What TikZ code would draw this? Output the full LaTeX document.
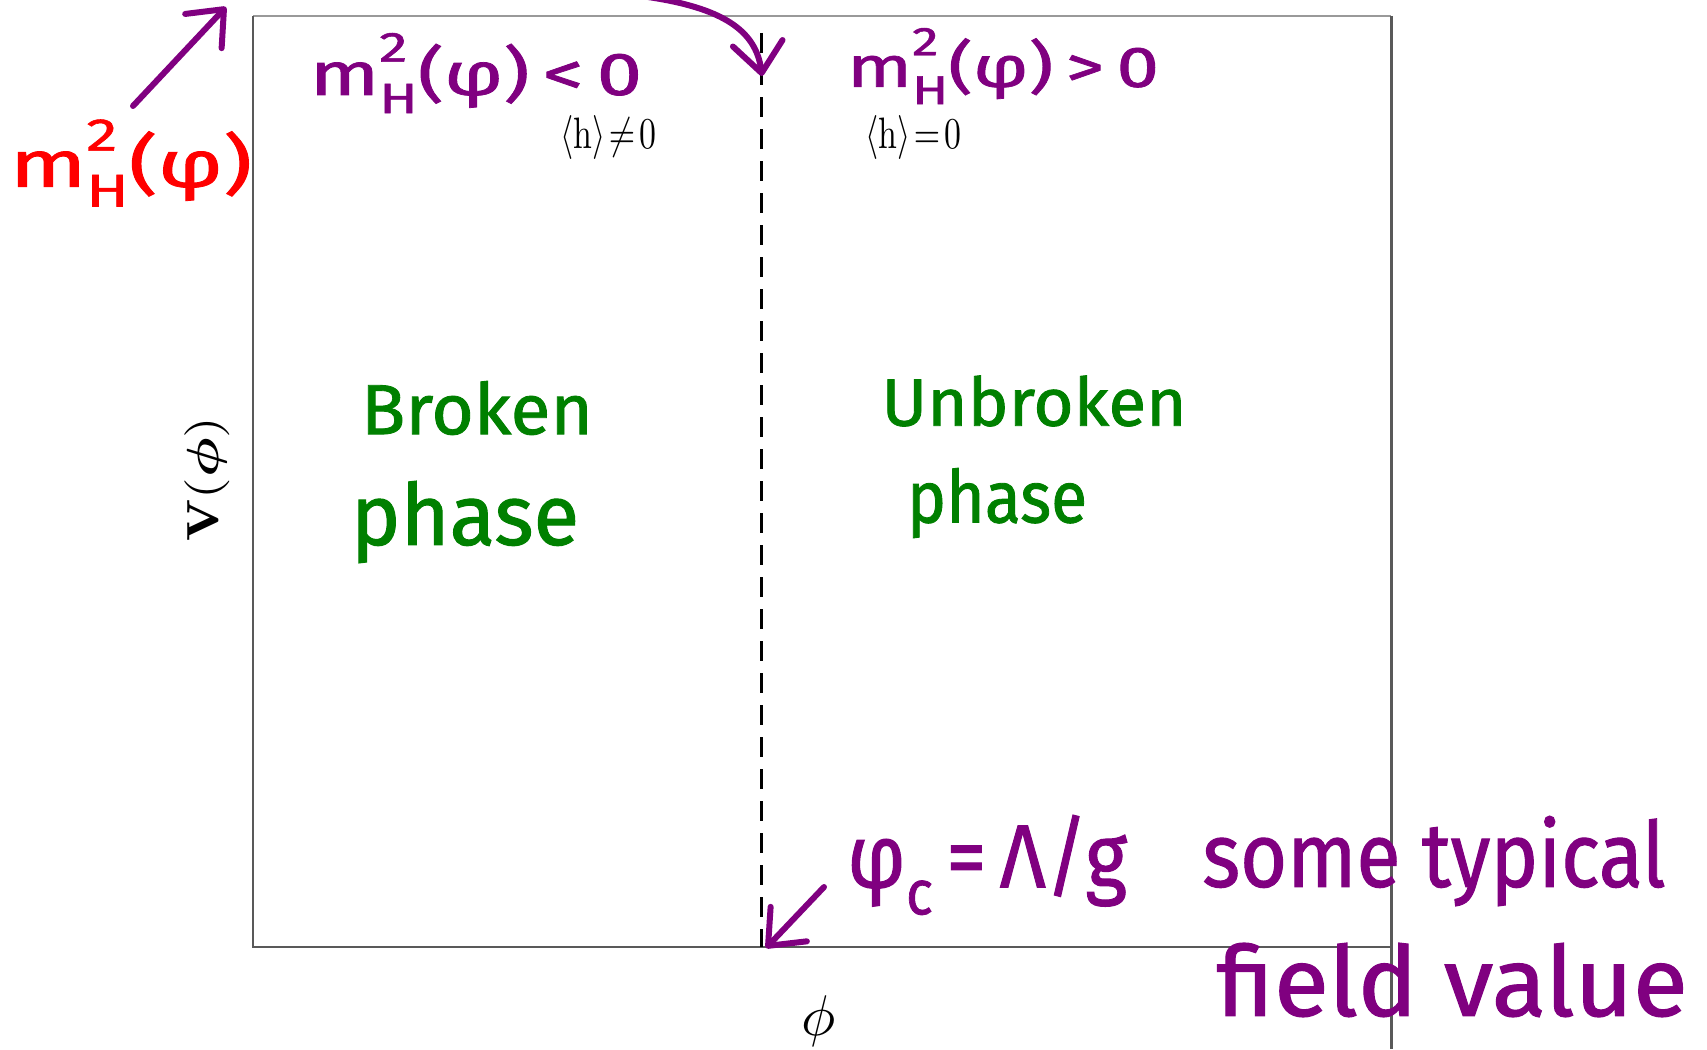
\documentclass[tikz,border=0pt]{standalone}
\usepackage{amsmath}
\usepackage{fontspec}
\usepackage{graphicx}
\usetikzlibrary{arrows.meta}
\newfontfamily\handfont[FakeBold=1.2]{Fira Sans}
\definecolor{hpurple}{RGB}{128,0,128}
\definecolor{hgreen}{RGB}{0,128,0}
\definecolor{hred}{RGB}{255,0,0}
\newcommand{\hw}[3]{\resizebox*{#1}{#2}{\handfont #3}}
\newcommand{\mHphi}{m\rlap{\raisebox{0.55em}{\scalebox{0.7}{2}}}\raisebox{-0.3em}{\scalebox{0.7}{H}}(φ)}
\tikzset{
  handline/.style={draw=hpurple, line width=6pt, line cap=round, line join=round},
  barb/.style={-{Straight Barb[length=30pt,width=50pt,line cap=round,line join=round]}},
  lbl/.style={inner sep=0pt, outer sep=0pt},
}
\begin{document}
\begin{tikzpicture}[x=1pt,y=-1pt]
\useasboundingbox (0,0) rectangle (1707,1049);
\fill[white] (0,0) rectangle (1707,1049);
% frame
\draw[black!40, line width=2pt] (253,16) -- (1391,16);
\draw[black!65, line width=2pt] (253,16) -- (253,947) -- (1391,947);
\draw[black!65, line width=3pt] (1391,16) -- (1391,1049);
% dashed critical line
\coordinate (dtop) at (761,33);
\coordinate (dbot) at (761,947);
\draw[black, line width=3pt, dash pattern=on 20pt off 12pt] (dtop) -- (dbot);
% axis labels
\node[lbl, rotate=90] (vlab) at (207,479) {\resizebox*{125pt}{45pt}{$\mathbf{V}(\boldsymbol{\phi})$}};
\node[lbl] (philab) at (819,1021) {\resizebox*{!}{51pt}{$\phi$}};
% printed vev labels
\node[lbl] (vevL) at (608,137) {\resizebox*{96pt}{44pt}{$\langle\mathrm{h}\rangle\!\neq\!0$}};
\node[lbl] (vevR) at (913,137) {\resizebox*{96pt}{44pt}{$\langle\mathrm{h}\rangle\!=\!0$}};
% handwritten labels
\node[lbl, text=hred] (redm) at (131,163) {\hw{242pt}{87pt}{\mHphi}};
\node[lbl, text=hpurple] (mL) at (476,73) {\hw{332pt}{80pt}{\mHphi\,<\,0}};
\node[lbl, text=hpurple] (mR) at (1003,66) {\hw{312pt}{76pt}{\mHphi\,>\,0}};
\node[lbl, text=hgreen] (brk) at (477,408) {\hw{232pt}{54pt}{Broken}};
\node[lbl, text=hgreen] (phL) at (465,522) {\hw{228pt}{82pt}{phase}};
\node[lbl, text=hgreen] (ubrk) at (1034,401) {\hw{305pt}{51pt}{Unbroken}};
\node[lbl, text=hgreen] (phR) at (997,503) {\hw{180pt}{70pt}{phase}};
\node[lbl, text=hpurple] (phic) at (987,865) {\hw{280pt}{100pt}{φ\raisebox{-0.3em}{\scalebox{0.7}{c}}\,=\,Λ/g}};
\node[lbl, text=hpurple] (some) at (1434,861) {\hw{463pt}{90pt}{some typical}};
\node[lbl, text=hpurple] (field) at (1452,980) {\hw{471pt}{74pt}{field value}};
% hand-drawn arrows
\coordinate (a1s) at (133,106);
\coordinate (a1e) at (226,7);
\draw[handline, barb] (a1s) -- (a1e);
\coordinate (a2s) at (648,-3);
\coordinate (a2e) at (762,76);
\draw[handline, barb] (a2s) .. controls (722,8) and (756,30) .. (a2e);
\coordinate (a3s) at (824,887);
\coordinate (a3e) at (766,948);
\draw[handline, barb] (a3s) -- (a3e);
\end{tikzpicture}
\end{document}
